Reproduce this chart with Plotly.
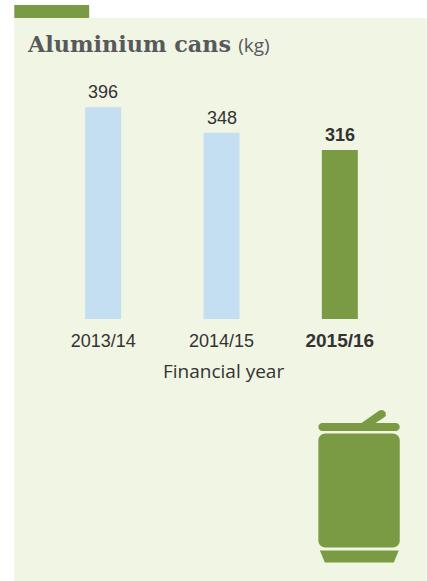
import plotly.graph_objects as go

# Data
categories = ["2013/14", "2014/15", "2015/16"]
values = [396, 348, 316]
highlight = [False, False, True]
x_title = "Financial year"
chart_title = "Aluminium cans"
chart_unit = "(kg)"

W, H = 427, 581
GREEN = "#7a9b43"
BLUE = "#c3dff1"
PANEL = "#f1f5e4"
INK = "#333333"
TITLE_INK = "#58595b"
SANS = "Liberation Sans"

L, R, T, B = 43.75, 27.75, 78, 262
YMAX = 450.5


def fx(px):
    return (px - L) / (W - L - R)


def fy(py):
    return (H - B - py) / (H - T - B)


def rect(x0, y0, x1, y1, color, layer="below"):
    return dict(type="rect", xref="paper", yref="paper", x0=fx(x0), x1=fx(x1),
                y0=fy(y1), y1=fy(y0), fillcolor=color, line_width=0, layer=layer)


def poly(points, color, layer="above"):
    path = "M " + " L ".join(f"{fx(x):.5f},{fy(y):.5f}" for x, y in points) + " Z"
    return dict(type="path", xref="paper", yref="paper", path=path,
                fillcolor=color, line_width=0, layer=layer)


def rounded(x0, y0, x1, y1, r, color):
    k = 0.45 * r
    sx, sy = fx, fy
    p = (f"M {sx(x0+r):.5f},{sy(y0):.5f} L {sx(x1-r):.5f},{sy(y0):.5f} "
         f"C {sx(x1-k):.5f},{sy(y0):.5f} {sx(x1):.5f},{sy(y0+k):.5f} {sx(x1):.5f},{sy(y0+r):.5f} "
         f"L {sx(x1):.5f},{sy(y1-r):.5f} "
         f"C {sx(x1):.5f},{sy(y1-k):.5f} {sx(x1-k):.5f},{sy(y1):.5f} {sx(x1-r):.5f},{sy(y1):.5f} "
         f"L {sx(x0+r):.5f},{sy(y1):.5f} "
         f"C {sx(x0+k):.5f},{sy(y1):.5f} {sx(x0):.5f},{sy(y1-k):.5f} {sx(x0):.5f},{sy(y1-r):.5f} "
         f"L {sx(x0):.5f},{sy(y0+r):.5f} "
         f"C {sx(x0):.5f},{sy(y0+k):.5f} {sx(x0+k):.5f},{sy(y0):.5f} {sx(x0+r):.5f},{sy(y0):.5f} Z")
    return dict(type="path", xref="paper", yref="paper", path=p,
                fillcolor=color, line_width=0, layer="above")


shapes = [
    rect(14, 18, 427, 581, PANEL),
    rect(14, 5, 89, 18, GREEN),
    # can icon
    rounded(318.5, 423, 400, 431, 4, GREEN),
    rounded(318.5, 433.5, 400, 547.5, 7, GREEN),
    poly([(320, 550.5), (399, 550.5), (394, 562.5), (325, 562.5)], GREEN),
    poly([(361, 423.5), (379.5, 410.5), (383, 410), (386, 412.5), (386, 416), (383.5, 418),
          (375, 423.5)], GREEN),
]

tick_text = [f"<span style=\"font-size:19px\"><b>{c}</b></span>" if h else c
             for c, h in zip(categories, highlight)]
bar_text = [f"<b>{v}</b>" if h else str(v) for v, h in zip(values, highlight)]
colors = [GREEN if h else BLUE for h in highlight]

annotations = [
    dict(x=c, y=v, xref="x", yref="y", text=t, showarrow=False, xanchor="center",
         yanchor="bottom", yshift=3, font=dict(family=SANS, size=18, color=INK))
    for c, v, t in zip(categories, values, bar_text)
]
annotations.append(dict(
    x=fx(223.5), y=fy(370.5), xref="paper", yref="paper", text=x_title, showarrow=False,
    xanchor="center", yanchor="middle", font=dict(family="Open Sans", size=19, color=INK),
))

fig = go.Figure(go.Bar(
    x=categories, y=values, width=0.304, marker=dict(color=colors, line_width=0),
    hoverinfo="skip",
))
fig.update_layout(
    width=W, height=H, autosize=False,
    margin=dict(l=L, r=R, t=T, b=B, pad=0),
    paper_bgcolor="white", plot_bgcolor="rgba(0,0,0,0)",
    showlegend=False, shapes=shapes, annotations=annotations,
    title=dict(
        text=(f"<b>{chart_title}</b> "
              f"<span style=\"font-family:Open Sans;font-size:19px\">{chart_unit}</span>"),
        font=dict(family="DejaVu Serif", size=22.3, color=TITLE_INK),
        xref="container", yref="container", x=28 / W, xanchor="left",
        y=1 - 44 / H, yanchor="middle",
    ),
    xaxis=dict(
        type="category", range=[-0.5, 2.5], tickmode="array", tickvals=categories,
        ticktext=tick_text, showline=False, showgrid=False, zeroline=False,
        ticks="outside", ticklen=5, tickcolor="rgba(0,0,0,0)",
        tickfont=dict(family=SANS, size=18, color=INK),
    ),
    yaxis=dict(range=[0, YMAX], visible=False, showgrid=False, zeroline=False),
)
fig.write_html("out.html", config=dict(displayModeBar=False),
               post_script="document.body.style.margin='0';document.body.style.overflow='hidden';")
